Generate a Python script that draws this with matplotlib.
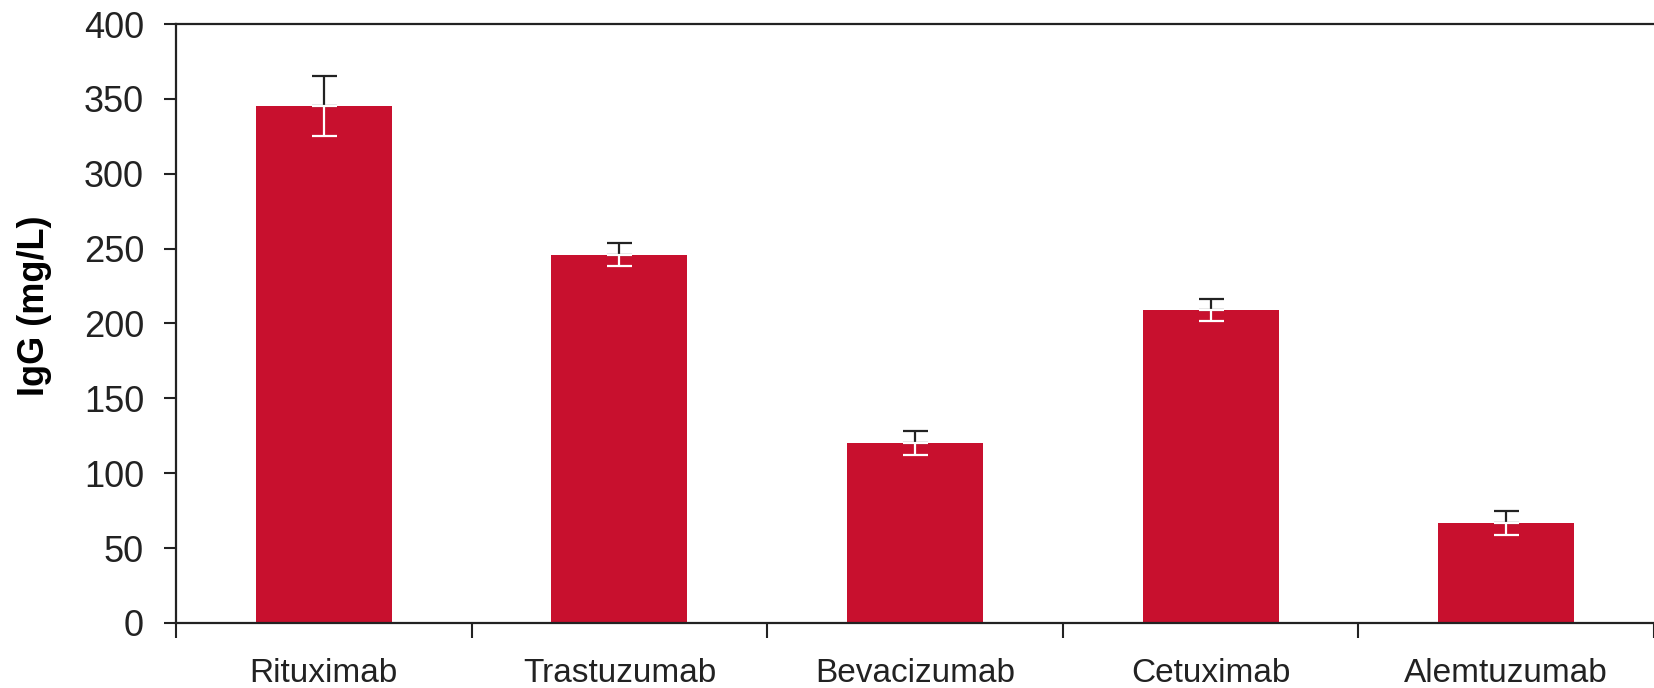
import numpy as np
import matplotlib.pyplot as plt

# Datos
categorias = ['Rituximab', 'Trastuzumab', 'Bevacizumab', 'Cetuximab', 'Alemtuzumab']
igg = [345, 246, 120, 209, 67]
error = [20, 7.5, 8, 7.5, 8]
yticks = [0, 50, 100, 150, 200, 250, 300, 350, 400]

plt.rcParams['font.family'] = ['Liberation Sans', 'DejaVu Sans']

fig = plt.figure(figsize=(16.54, 6.88), dpi=100)
ax = fig.add_axes([0.1064, 0.0945, 0.8936, 0.8706])

x = np.arange(len(categorias))
ax.bar(x, igg, width=0.46, color='#C8102E', zorder=2)

# barra de error: mitad superior negra, mitad inferior blanca
ax.errorbar(x, igg, yerr=[np.zeros(len(error)), error], fmt='none',
            ecolor='#222222', elinewidth=1.6, capsize=9, capthick=1.6, zorder=3)
ax.errorbar(x, igg, yerr=[error, np.zeros(len(error))], fmt='none',
            ecolor='white', elinewidth=1.6, capsize=9, capthick=1.6, zorder=3)

ax.set_xlim(-0.5, len(categorias) - 0.5)
ax.set_ylim(0, 400)
ax.set_yticks(yticks)
ax.tick_params(axis='y', labelsize=26, length=9, width=1.5, colors='#222222', pad=14)

# marcas entre categorías, etiquetas en el centro
ax.set_xticks(np.arange(-0.5, len(categorias), 1.0))
ax.set_xticklabels([])
ax.tick_params(axis='x', which='major', length=11, width=1.5, color='#222222')
ax.set_xticks(x, minor=True)
ax.set_xticklabels(categorias, minor=True, fontsize=24, color='#222222')
ax.tick_params(axis='x', which='minor', length=0, pad=25)

ax.set_ylabel('IgG (mg/L)', fontsize=26, fontweight='bold')
ax.yaxis.set_label_coords(-0.084, 0.53)

for s in ['left', 'bottom', 'top']:
    ax.spines[s].set_linewidth(1.6)
    ax.spines[s].set_color('#222222')
ax.spines['right'].set_visible(False)

plt.savefig('out.png', dpi=100)
